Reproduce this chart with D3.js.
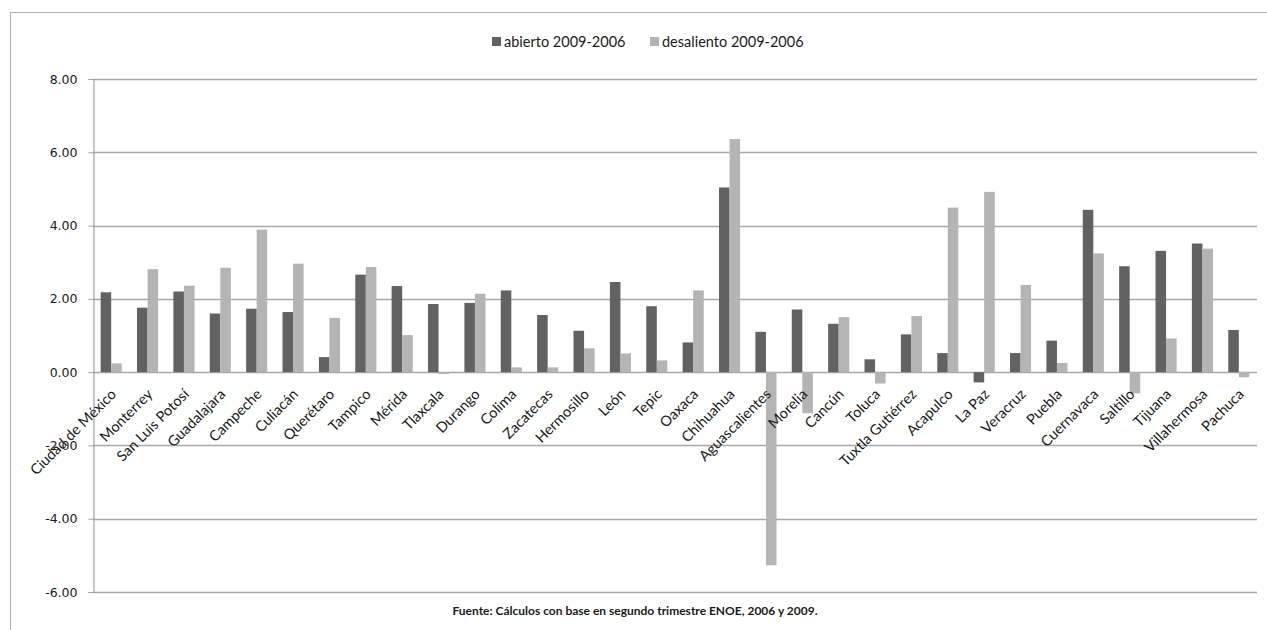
<!DOCTYPE html>
<html>
<head>
<meta charset="utf-8">
<script src="https://cdn.jsdelivr.net/npm/d3@7"></script>
<style>
  html, body { margin: 0; padding: 0; background: #fff; }
  svg { display: block; font-family: Lato, "Open Sans", sans-serif; }
</style>
</head>
<body>
<svg id="chart" width="1267" height="630"></svg>
<script>
// Ciudades
const cities = [
  "Ciudad de México", "Monterrey", "San Luis Potosí", "Guadalajara", "Campeche",
  "Culiacán", "Querétaro", "Tampico", "Mérida", "Tlaxcala", "Durango", "Colima",
  "Zacatecas", "Hermosillo", "León", "Tepic", "Oaxaca", "Chihuahua",
  "Aguascalientes", "Morelia", "Cancún", "Toluca", "Tuxtla Gutiérrez", "Acapulco",
  "La Paz", "Veracruz", "Puebla", "Cuernavaca", "Saltillo", "Tijuana",
  "Villahermosa", "Pachuca"
];

// Cambio en desempleo abierto, 2009-2006
const abierto = [
  2.18, 1.76, 2.20, 1.60, 1.73, 1.64, 0.41, 2.66, 2.35, 1.86, 1.89, 2.23,
  1.56, 1.13, 2.46, 1.80, 0.81, 5.04, 1.10, 1.71, 1.32, 0.35, 1.03, 0.52,
  -0.28, 0.52, 0.86, 4.43, 2.89, 3.31, 3.51, 1.15
];

// Cambio en desaliento, 2009-2006
const desaliento = [
  0.24, 2.81, 2.36, 2.85, 3.89, 2.96, 1.48, 2.87, 1.01, -0.05, 2.14, 0.13,
  0.13, 0.65, 0.51, 0.32, 2.23, 6.36, -5.27, -1.12, 1.50, -0.31, 1.53, 4.49,
  4.92, 2.38, 0.25, 3.24, -0.58, 0.92, 3.37, -0.14
];

const seriesNames = ["abierto 2009-2006", "desaliento 2009-2006"];
const seriesColors = ["#626262", "#b4b4b4"];
const yTicks = [-6, -4, -2, 0, 2, 4, 6, 8];
const footnote = "Fuente: Cálculos con base en segundo trimestre ENOE, 2006 y 2009.";

const svg = d3.select("#chart");
const W = 1267, H = 630;
const plot = { left: 93, right: 1257, top: 79, bottom: 592 };

// Marco exterior del gráfico
svg.append("rect")
  .attr("x", 10.5).attr("y", 12.5)
  .attr("width", W + 20).attr("height", H + 20)
  .attr("fill", "none").attr("stroke", "#b0b0b0").attr("stroke-width", 1);

const x = d3.scaleBand().domain(cities).range([plot.left, plot.right]).paddingInner(0.42).paddingOuter(0.21);
const xs = d3.scaleBand().domain([0, 1]).range([0, x.bandwidth()]);
const y = d3.scaleLinear().domain([-6, 8]).range([plot.bottom, plot.top]);

// Líneas de cuadrícula
svg.append("g").selectAll("line").data(yTicks).join("line")
  .attr("x1", plot.left).attr("x2", plot.right)
  .attr("y1", d => Math.round(y(d)) + 0.5).attr("y2", d => Math.round(y(d)) + 0.5)
  .attr("stroke", "#a8a8a8").attr("stroke-width", 1.5);

// Eje vertical (guion simple para los negativos)
const fmt = d => d.toFixed(2);
const yAxis = d3.axisLeft(y).tickValues(yTicks).tickFormat(fmt).tickSize(5).tickPadding(11);
const gy = svg.append("g").attr("transform", `translate(${plot.left + 0.5},0)`).call(yAxis);
gy.select(".domain").attr("stroke", "#a0a0a0").attr("stroke-width", 1.2);
gy.selectAll(".tick line").attr("stroke", "#a0a0a0");
gy.selectAll(".tick text").attr("fill", "#1a1a1a")
  .attr("font-family", "'DejaVu Sans', sans-serif").attr("font-size", 12.5);

// Barras
const series = [abierto, desaliento];
series.forEach((vals, si) => {
  svg.append("g").selectAll("rect").data(vals).join("rect")
    .attr("x", (d, i) => x(cities[i]) + xs(si))
    .attr("width", xs.bandwidth())
    .attr("y", d => y(Math.max(0, d)))
    .attr("height", d => Math.abs(y(d) - y(0)))
    .attr("fill", seriesColors[si]);
});

// Etiquetas de ciudades, giradas
svg.append("g").selectAll("text").data(cities).join("text")
  .attr("transform", d => `translate(${x(d) + x.bandwidth() / 2 + 6},${y(0) + 23}) rotate(-45)`)
  .attr("text-anchor", "end")
  .attr("font-size", 14.5)
  .attr("fill", "#1a1a1a")
  .text(d => d);

// Leyenda
const legend = svg.append("g").attr("transform", "translate(492,42)");
const lx = [0, 158];
seriesNames.forEach((name, i) => {
  const g = legend.append("g").attr("transform", `translate(${lx[i]},0)`);
  g.append("rect").attr("x", 0).attr("y", -5).attr("width", 9).attr("height", 9).attr("fill", seriesColors[i]);
  g.append("text").attr("x", 12).attr("y", 5).attr("font-size", 14.5).attr("fill", "#1a1a1a").text(name);
});

// Nota de fuente
svg.append("text")
  .attr("x", 635).attr("y", 615)
  .attr("text-anchor", "middle")
  .attr("font-size", 12).attr("font-weight", "bold")
  .attr("fill", "#1a1a1a")
  .text(footnote);
</script>
</body>
</html>
